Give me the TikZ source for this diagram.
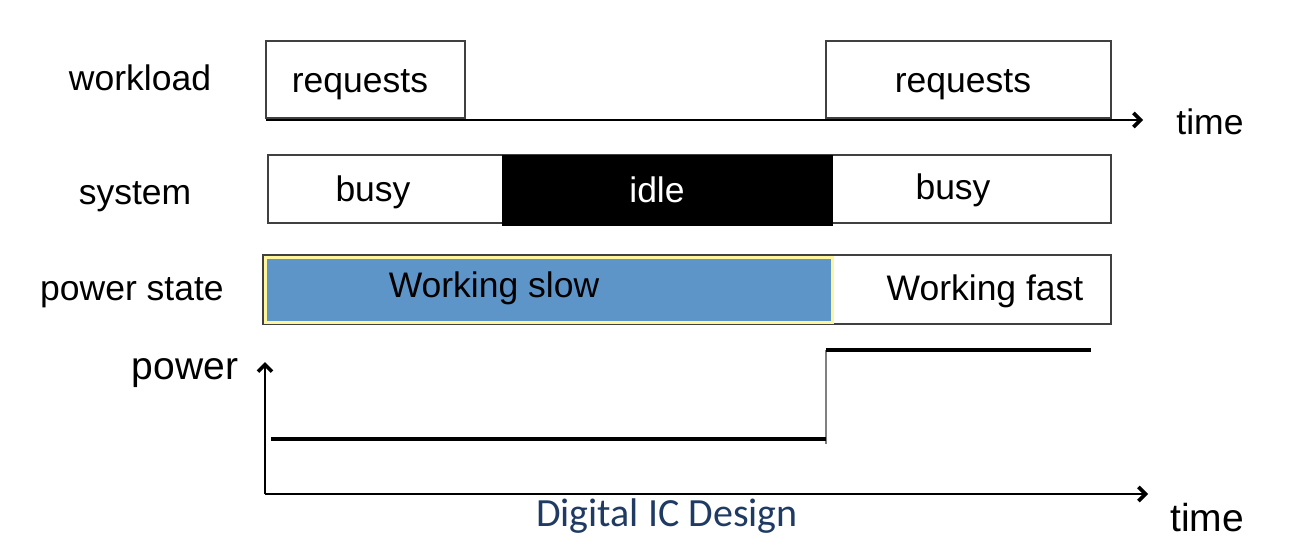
\documentclass[tikz,border=0pt]{standalone}
\usepackage{fontspec}
\setmainfont{Liberation Sans}
\newfontfamily\footfont{Carlito}
\usetikzlibrary{arrows.meta}
\definecolor{slowblue}{HTML}{5E95C9}
\definecolor{rimyellow}{HTML}{FFF59D}
\definecolor{footblue}{HTML}{1F3B63}

\begin{document}
\begin{tikzpicture}[x=0.5pt,y=-0.5pt,
  lbl/.style={inner sep=0pt,font=\fontsize{17.75}{20}\selectfont},
  bigl/.style={inner sep=0pt,font=\fontsize{19.5}{22}\selectfont},
  slot/.style={draw=black!75,line width=0.6pt},
  axis/.style={line width=0.6pt,-{Straight Barb[length=3.5pt,width=7pt,line width=1.8pt]}},
  level/.style={line width=1.6pt}]
\useasboundingbox (0,0) rectangle (1303,552);

% workload
\draw[slot] (266,41) rectangle (465,118);
\draw[slot] (826,41) rectangle (1111,118);
\coordinate (t1) at (266,120);
\coordinate (t1end) at (1143,120);
\draw[axis] (t1) -- (t1end);
\node[lbl] (work) at (140,78) {workload};
\node[lbl] (req1) at (360,85) {requests};
\node[lbl] (req2) at (963,85) {requests};
\node[lbl] (time1) at (1210,122) {time};

% system
\draw[slot] (268,155) rectangle (1111,223);
\draw[fill=black] (502,155) rectangle (832,225);
\node[lbl] (sys) at (135,197) {system};
\node[lbl] (busy1) at (373,192) {busy};
\node[lbl,text=white] (idle) at (657,190) {idle};
\node[lbl] (busy2) at (953,190) {busy};

% power state
\draw[slot] (263,255) rectangle (1111,324);
\draw[fill=slowblue,draw=rimyellow,line width=1.5pt] (265,257) rectangle (832,322);
\node[lbl] (pstate) at (132,293) {power state};
\node[lbl] (slow) at (494,288) {Working slow};
\node[lbl] (fast) at (985,291) {Working fast};

% power axes
\coordinate (o) at (265,494);
\coordinate (ytop) at (265,362);
\coordinate (xend) at (1148,494);
\draw[axis] (o) -- (ytop);
\draw[axis] (o) -- (xend);
\node[bigl] (pow) at (185,373) {power};
\node[bigl] (time2) at (1207,518) {time};

% power level
\draw[gray,line width=1pt] (826,350) -- (826,444);
\draw[level] (271,439) -- (826,439);
\draw[level] (826,350) -- (1091,350);

\node[inner sep=0pt,text=footblue,font=\footfont\fontsize{20}{23}\selectfont] (foot) at (667,516) {Digital IC Design};
\end{tikzpicture}
\end{document}
